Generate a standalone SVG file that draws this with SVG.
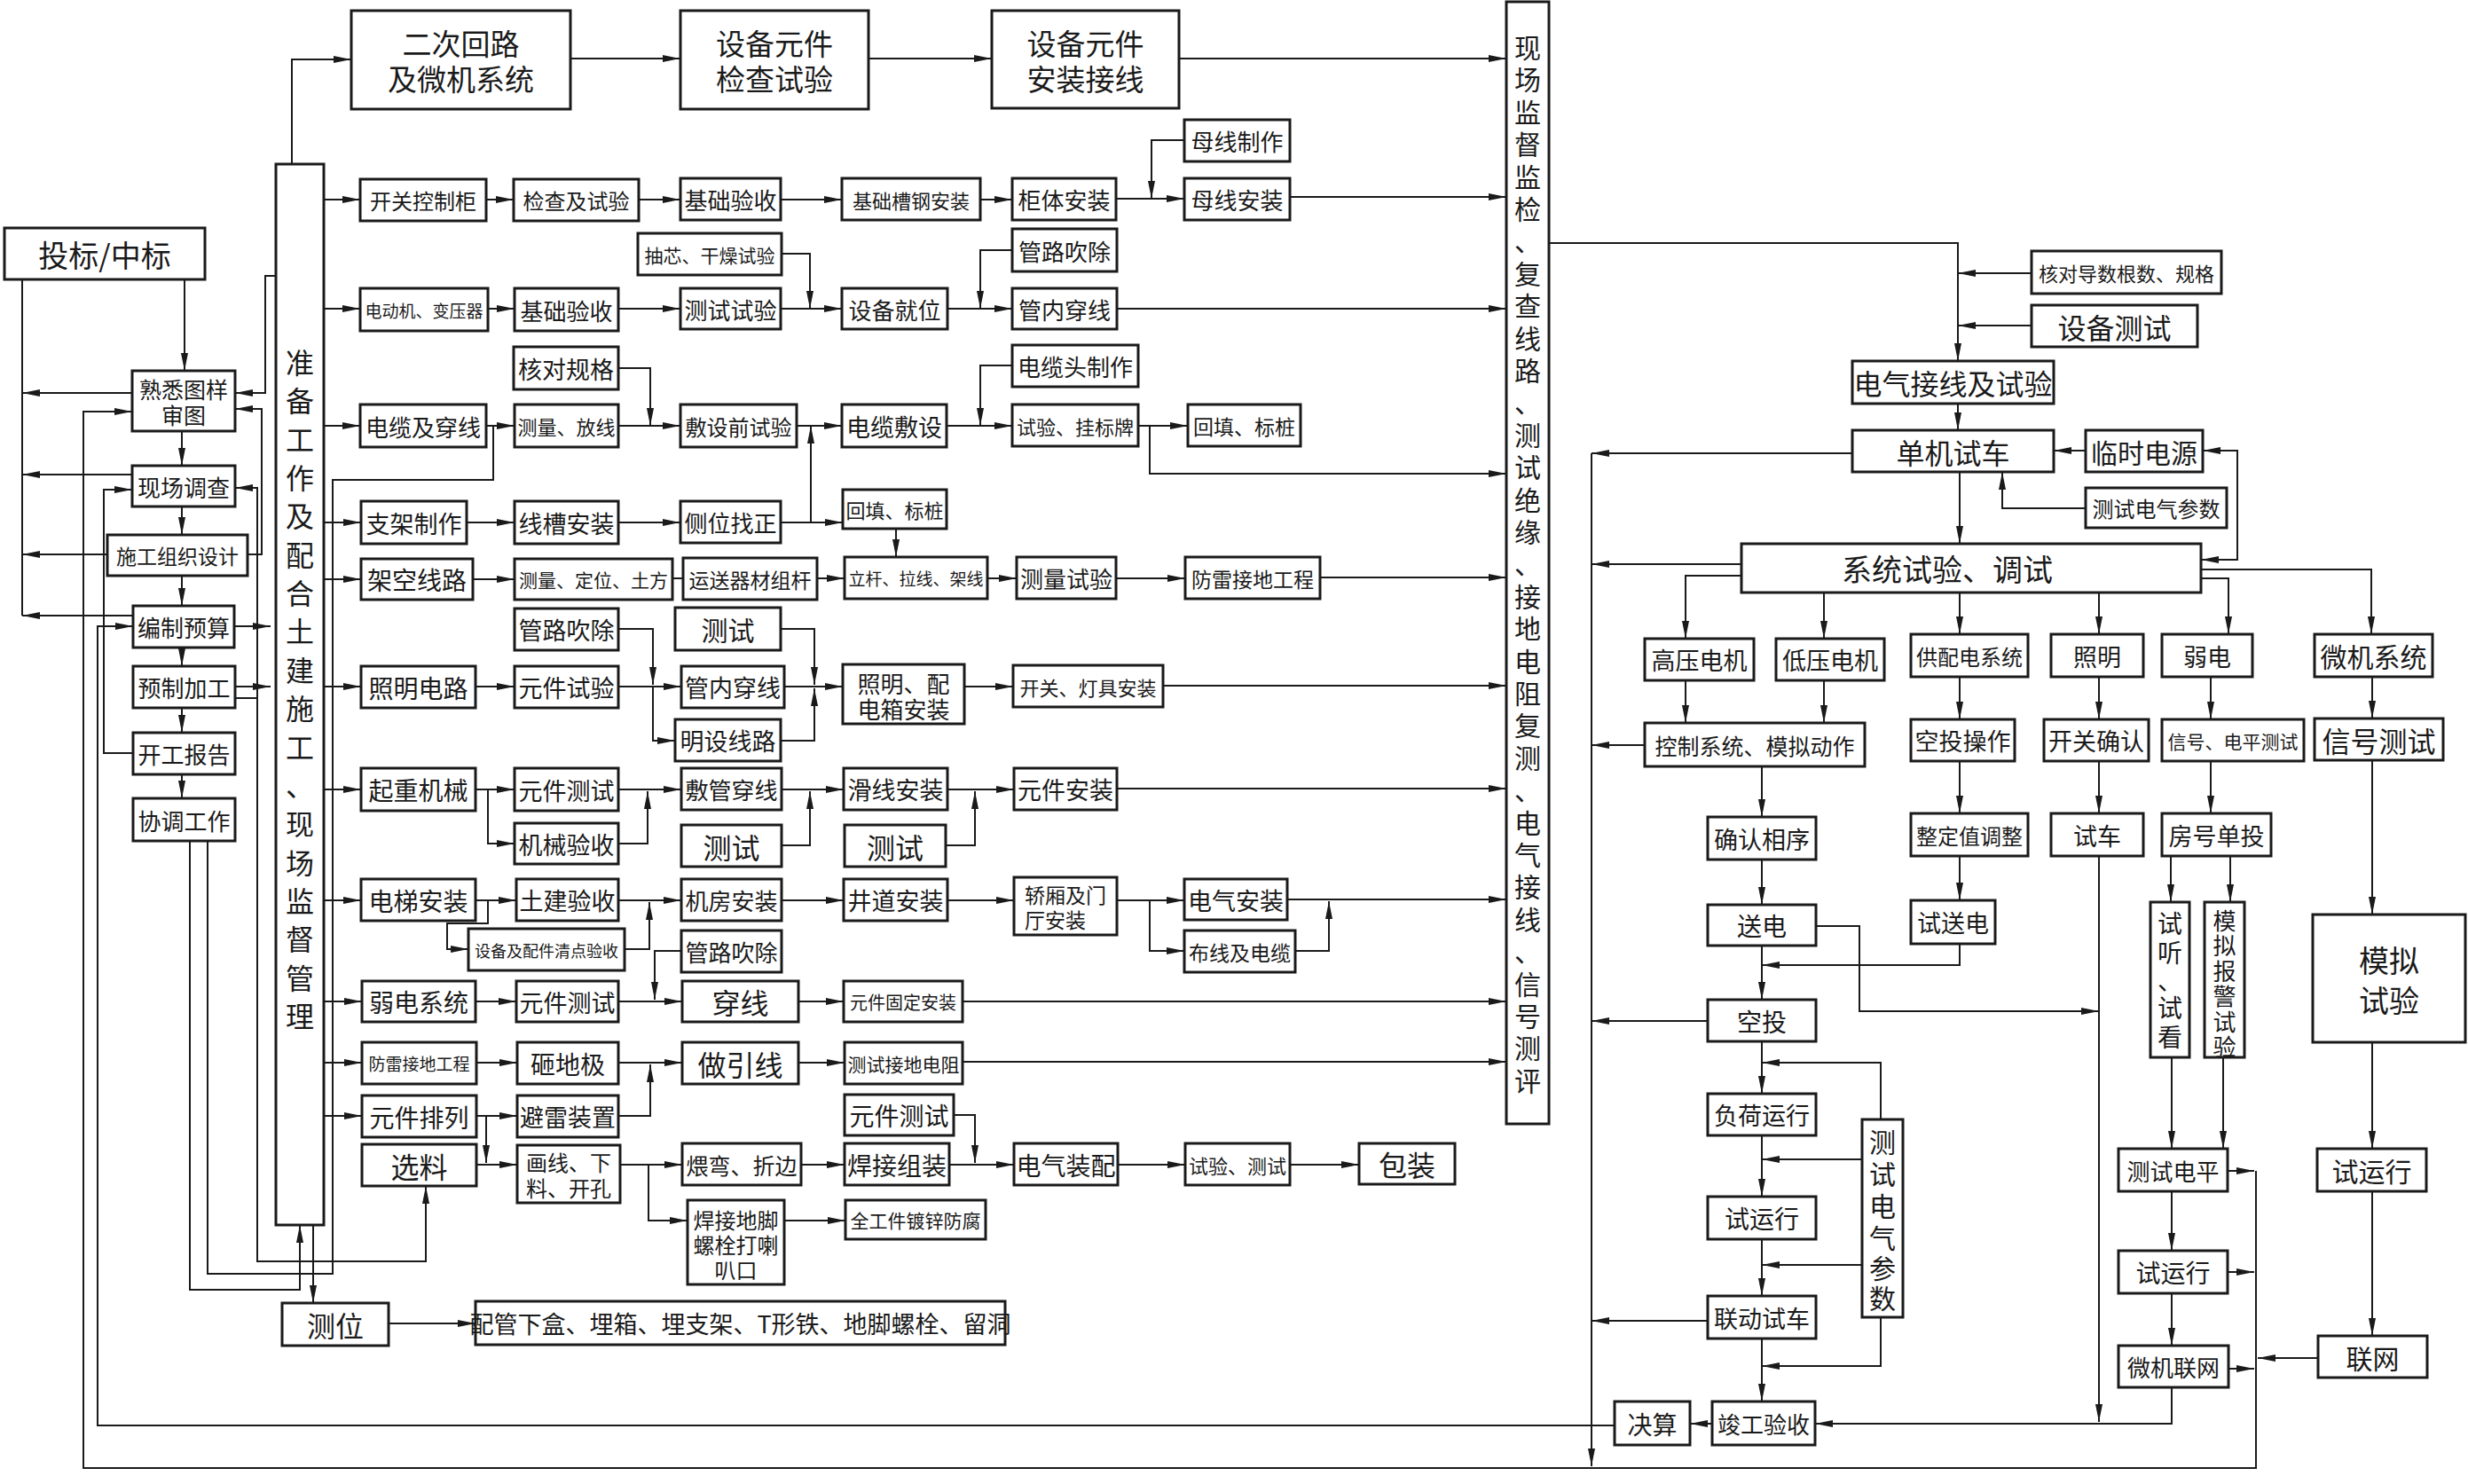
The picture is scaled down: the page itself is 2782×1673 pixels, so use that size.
<svg xmlns="http://www.w3.org/2000/svg" width="2782" height="1673" viewBox="0 0 2782 1673">
<defs>
<marker id="ah" markerWidth="20" markerHeight="10" refX="20" refY="5" orient="auto" markerUnits="userSpaceOnUse"><path d="M0,1 L20,5 L0,9 z" fill="#1a1a1a"/></marker>
<style>
.b{fill:#fff;stroke:#1a1a1a;stroke-width:3}
.t{font-family:"Noto Sans CJK SC","Noto Sans CJK JP",sans-serif;fill:#1a1a1a;text-anchor:middle;dominant-baseline:central}
.c path{fill:none;stroke:#1a1a1a;stroke-width:2}
.c path.a{marker-end:url(#ah)}
</style>
</defs>
<rect width="2782" height="1673" fill="#fff"/>
<g class="c" id="connectors">
<path class="a" d="M329,185 V67 H396"/>
<path class="a" d="M643,66 H767"/>
<path class="a" d="M979,66 H1118"/>
<path class="a" d="M1329,66 H1698"/>
<path class="a" d="M365,225 H406"/>
<path class="a" d="M548,225 H579"/>
<path class="a" d="M720,225 H767"/>
<path class="a" d="M880,225 H949"/>
<path class="a" d="M1105,225 H1141"/>
<path class="a" d="M1258,224 H1335"/>
<path class="a" d="M1335,158 H1298 V224"/>
<path class="a" d="M1454,222 H1698"/>
<path class="a" d="M365,348 H406"/>
<path class="a" d="M550,348 H580"/>
<path class="a" d="M697,348 H767"/>
<path class="a" d="M881,286 H913 V348"/>
<path class="a" d="M880,348 H949"/>
<path class="a" d="M1141,282 H1105 V348"/>
<path class="a" d="M1068,348 H1141"/>
<path class="a" d="M1259,348 H1698"/>
<path class="a" d="M365,480 H406"/>
<path class="a" d="M548,480 H580"/>
<path class="a" d="M697,415 H733 V480"/>
<path class="a" d="M697,480 H767"/>
<path class="a" d="M898,480 H949"/>
<path class="a" d="M914,589 V480"/>
<path class="a" d="M1141,412 H1105 V480"/>
<path class="a" d="M1067,480 H1141"/>
<path class="a" d="M1283,480 H1339"/>
<path class="a" d="M1296,480 V534 H1698"/>
<path d="M556,480 V541 H375 V1436 H234 V948"/>
<path class="a" d="M365,589 H407"/>
<path class="a" d="M526,589 H580"/>
<path class="a" d="M697,589 H767"/>
<path class="a" d="M880,589 H950"/>
<path class="a" d="M1010,596 V628"/>
<path class="a" d="M365,653 H407"/>
<path class="a" d="M533,653 H580"/>
<path d="M758,652 H770"/>
<path class="a" d="M921,652 H952"/>
<path class="a" d="M1113,652 H1146"/>
<path class="a" d="M1258,652 H1336"/>
<path class="a" d="M1488,651 H1698"/>
<path class="a" d="M365,774 H407"/>
<path class="a" d="M536,774 H580"/>
<path class="a" d="M697,774 H768"/>
<path class="a" d="M697,709 H736 V772"/>
<path class="a" d="M736,774 V835 H761"/>
<path class="a" d="M880,709 H918 V772"/>
<path class="a" d="M880,835 H918 V776"/>
<path class="a" d="M884,774 H950"/>
<path class="a" d="M1087,774 H1142"/>
<path class="a" d="M1311,773 H1698"/>
<path class="a" d="M365,890 H407"/>
<path class="a" d="M536,890 H580"/>
<path class="a" d="M550,890 V951 H580"/>
<path class="a" d="M697,890 H768"/>
<path class="a" d="M697,951 H730 V892"/>
<path class="a" d="M881,890 H951"/>
<path class="a" d="M881,953 H913 V892"/>
<path class="a" d="M1068,890 H1143"/>
<path class="a" d="M1066,953 H1099 V892"/>
<path class="a" d="M1259,889 H1698"/>
<path class="a" d="M365,1015 H407"/>
<path class="a" d="M536,1015 H582"/>
<path class="a" d="M550,1015 V1041 H504 V1070 H528"/>
<path class="a" d="M697,1015 H768"/>
<path class="a" d="M704,1070 H732 V1017"/>
<path class="a" d="M881,1015 H951"/>
<path class="a" d="M1068,1015 H1143"/>
<path class="a" d="M1259,1015 H1335"/>
<path class="a" d="M1296,1015 V1072 H1335"/>
<path class="a" d="M1451,1014 H1698"/>
<path class="a" d="M1460,1072 H1498 V1016"/>
<path class="a" d="M768,1072 H738 V1127"/>
<path class="a" d="M365,1129 H408"/>
<path class="a" d="M536,1129 H582"/>
<path class="a" d="M697,1129 H769"/>
<path class="a" d="M900,1129 H951"/>
<path class="a" d="M1085,1129 H1698"/>
<path class="a" d="M365,1198 H408"/>
<path class="a" d="M537,1198 H583"/>
<path class="a" d="M697,1198 H769"/>
<path class="a" d="M697,1258 H733 V1200"/>
<path class="a" d="M900,1198 H952"/>
<path class="a" d="M1085,1197 H1698"/>
<path class="a" d="M365,1258 H408"/>
<path class="a" d="M537,1258 H583"/>
<path class="a" d="M548,1258 V1311"/>
<path class="a" d="M537,1313 H583"/>
<path class="a" d="M699,1313 H769"/>
<path class="a" d="M731,1313 V1376 H775"/>
<path class="a" d="M903,1313 H952"/>
<path class="a" d="M1070,1313 H1143"/>
<path class="a" d="M1075,1257 H1099 V1311"/>
<path class="a" d="M1260,1313 H1336"/>
<path class="a" d="M1454,1313 H1532"/>
<path class="a" d="M884,1376 H953"/>
<path class="a" d="M353,1381 V1469"/>
<path class="a" d="M438,1492 H536"/>
<path class="a" d="M214,948 V1454 H338 V1381"/>
<path d="M265,787 H290"/>
<path class="a" d="M290,787 V1422 H480 V1337"/>
<path class="a" d="M290,787 V550 H265"/>
<path d="M25,315 V694"/>
<path class="a" d="M208,315 V418"/>
<path class="a" d="M149,443 H25"/>
<path class="a" d="M149,535 H25"/>
<path class="a" d="M121,625 H25"/>
<path class="a" d="M150,694 H25"/>
<path class="a" d="M205,486 V525"/>
<path class="a" d="M205,571 V603"/>
<path class="a" d="M205,649 V683"/>
<path class="a" d="M205,730 V751"/>
<path class="a" d="M205,798 V826"/>
<path class="a" d="M205,873 V900"/>
<path class="a" d="M2543,1320 V1655 H94 V464 H149"/>
<path class="a" d="M1820,1607 H110 V706 H150"/>
<path class="a" d="M150,849 H117 V552 H149"/>
<path class="a" d="M311,311 H299 V443 H265"/>
<path class="a" d="M279,625 H295 V461 H265"/>
<path class="a" d="M264,706 H305"/>
<path class="a" d="M265,774 H305"/>
<path class="a" d="M1746,274 H2207 V407"/>
<path class="a" d="M2290,308 H2207"/>
<path class="a" d="M2290,367 H2207"/>
<path class="a" d="M2207,455 V485"/>
<path class="a" d="M2351,508 H2315"/>
<path class="a" d="M2522,570 V508 H2483"/>
<path class="a" d="M2522,570 V631 H2481"/>
<path class="a" d="M2351,573 H2257 V532"/>
<path class="a" d="M2209,532 V613"/>
<path class="a" d="M2088,511 H1794"/>
<path class="a" d="M1794,511 V1653"/>
<path class="a" d="M1963,636 H1794"/>
<path class="a" d="M1963,649 H1900 V720"/>
<path class="a" d="M2056,668 V720"/>
<path class="a" d="M2209,668 V715"/>
<path class="a" d="M2366,668 V715"/>
<path class="a" d="M2481,652 H2512 V715"/>
<path class="a" d="M2481,642 H2673 V715"/>
<path class="a" d="M1900,767 V815"/>
<path class="a" d="M2056,767 V815"/>
<path class="a" d="M1854,840 H1794"/>
<path class="a" d="M1986,864 V921"/>
<path class="a" d="M1986,969 V1020"/>
<path class="a" d="M1986,1066 V1127"/>
<path class="a" d="M2047,1044 H2096 V1140 H2366"/>
<path class="a" d="M2209,1064 V1088 H1986"/>
<path class="a" d="M1925,1151 H1794"/>
<path class="a" d="M1986,1174 V1233"/>
<path class="a" d="M2120,1262 V1198 H1986"/>
<path class="a" d="M1986,1280 V1349"/>
<path class="a" d="M2099,1307 H1986"/>
<path class="a" d="M1986,1397 V1461"/>
<path class="a" d="M2099,1426 H1986"/>
<path class="a" d="M1986,1509 V1580"/>
<path class="a" d="M2120,1485 V1540 H1986"/>
<path class="a" d="M1925,1489 H1794"/>
<path class="a" d="M1930,1605 H1905"/>
<path class="a" d="M2209,763 V811"/>
<path class="a" d="M2209,858 V917"/>
<path class="a" d="M2209,965 V1015"/>
<path class="a" d="M2366,763 V811"/>
<path class="a" d="M2366,858 V917"/>
<path class="a" d="M2366,965 V1603"/>
<path class="a" d="M2492,763 V811"/>
<path class="a" d="M2492,858 V917"/>
<path class="a" d="M2447,965 V1017"/>
<path class="a" d="M2514,965 V1017"/>
<path class="a" d="M2448,1192 V1295"/>
<path class="a" d="M2506,1192 V1295"/>
<path class="a" d="M2448,1343 V1410"/>
<path class="a" d="M2448,1458 V1517"/>
<path class="a" d="M2448,1564 V1605 H2046"/>
<path class="a" d="M2511,1320 H2541"/>
<path class="a" d="M2511,1434 H2541"/>
<path class="a" d="M2512,1543 H2541"/>
<path class="a" d="M2613,1531 H2545"/>
<path class="a" d="M2674,763 V810"/>
<path class="a" d="M2674,857 V1031"/>
<path class="a" d="M2674,1175 V1295"/>
<path class="a" d="M2674,1343 V1506"/>
</g>
<g id="n01"><rect class="b" x="396" y="12" width="247" height="111"/><text class="t" font-size="33" x="470 503 536 569 453.5 486.5 519.5 552.5 585.5" y="48 48 48 48 88 88 88 88 88">二次回路及微机系统</text></g>
<g id="n02"><rect class="b" x="767" y="12" width="212" height="111"/><text class="t" font-size="33" x="823.5 856.5 889.5 922.5 823.5 856.5 889.5 922.5" y="48 48 48 48 88 88 88 88">设备元件检查试验</text></g>
<g id="n03"><rect class="b" x="1118" y="12" width="211" height="110"/><text class="t" font-size="33" x="1174 1207 1240 1273 1174 1207 1240 1273" y="48 48 48 48 88 88 88 88">设备元件安装接线</text></g>
<g id="n04"><rect class="b" x="311" y="185" width="54" height="1196"/><text class="t" font-size="32" x="338 338 338 338 338 338 338 338 338 338 338 338 338 338 338 338 338 338" y="407 450 494 537 580 624 667 710 754 797 841 884 927 971 1014 1057 1101 1144">准备工作及配合土建施工、现场监督管理</text></g>
<g id="n05"><rect class="b" x="1698" y="2" width="48" height="1265"/><text class="t" font-size="30" x="1722 1722 1722 1722 1722 1722 1722 1722 1722 1722 1722 1722 1722 1722 1722 1722 1722 1722 1722 1722 1722 1722 1722 1722 1722 1722 1722 1722 1722 1722 1722 1722 1722" y="52 88 125 161 198 234 270 307 343 380 416 452 489 525 562 598 634 671 707 744 780 816 853 889 926 962 998 1035 1071 1108 1144 1180 1217">现场监督监检、复查线路、测试绝缘、接地电阻复测、电气接线、信号测评</text></g>
<g id="n06"><rect class="b" x="5" y="257" width="226" height="58"/><text class="t" x="118" y="286" font-size="34">投标/中标</text></g>
<g id="n07"><rect class="b" x="149" y="418" width="116" height="68"/><text class="t" font-size="25" x="169.5 194.5 219.5 244.5 194.5 219.5" y="438 438 438 438 467 467">熟悉图样审图</text></g>
<g id="n08"><rect class="b" x="149" y="525" width="116" height="46"/><text class="t" x="207" y="548" font-size="26">现场调查</text></g>
<g id="n09"><rect class="b" x="121" y="603" width="158" height="46"/><text class="t" x="200" y="626" font-size="23">施工组织设计</text></g>
<g id="n10"><rect class="b" x="150" y="683" width="114" height="47"/><text class="t" x="207" y="706.5" font-size="26">编制预算</text></g>
<g id="n11"><rect class="b" x="150" y="751" width="115" height="47"/><text class="t" x="207.5" y="774.5" font-size="26">预制加工</text></g>
<g id="n12"><rect class="b" x="150" y="826" width="115" height="47"/><text class="t" x="207.5" y="849.5" font-size="26">开工报告</text></g>
<g id="n13"><rect class="b" x="150" y="900" width="115" height="48"/><text class="t" x="207.5" y="924" font-size="26">协调工作</text></g>
<g id="n14"><rect class="b" x="406" y="202" width="142" height="47"/><text class="t" x="477" y="225.5" font-size="24">开关控制柜</text></g>
<g id="n15"><rect class="b" x="579" y="202" width="141" height="47"/><text class="t" x="649.5" y="225.5" font-size="24">检查及试验</text></g>
<g id="n16"><rect class="b" x="767" y="201" width="113" height="47"/><text class="t" x="823.5" y="224.5" font-size="26">基础验收</text></g>
<g id="n17"><rect class="b" x="949" y="201" width="156" height="47"/><text class="t" x="1027" y="224.5" font-size="22">基础槽钢安装</text></g>
<g id="n18"><rect class="b" x="1141" y="201" width="117" height="47"/><text class="t" x="1199.5" y="224.5" font-size="26">柜体安装</text></g>
<g id="n19"><rect class="b" x="1335" y="135" width="119" height="47"/><text class="t" x="1394.5" y="158.5" font-size="26">母线制作</text></g>
<g id="n20"><rect class="b" x="1335" y="201" width="119" height="47"/><text class="t" x="1394.5" y="224.5" font-size="26">母线安装</text></g>
<g id="n21"><rect class="b" x="406" y="325" width="144" height="48"/><text class="t" x="478" y="349" font-size="19">电动机、变压器</text></g>
<g id="n22"><rect class="b" x="580" y="325" width="117" height="48"/><text class="t" x="638.5" y="349" font-size="26">基础验收</text></g>
<g id="n23"><rect class="b" x="719" y="263" width="162" height="47"/><text class="t" x="800" y="286.5" font-size="21">抽芯、干燥试验</text></g>
<g id="n24"><rect class="b" x="767" y="325" width="113" height="46"/><text class="t" x="823.5" y="348" font-size="26">测试试验</text></g>
<g id="n25"><rect class="b" x="949" y="325" width="119" height="46"/><text class="t" x="1008.5" y="348" font-size="26">设备就位</text></g>
<g id="n26"><rect class="b" x="1141" y="258" width="118" height="48"/><text class="t" x="1200" y="282" font-size="26">管路吹除</text></g>
<g id="n27"><rect class="b" x="1141" y="325" width="118" height="46"/><text class="t" x="1200" y="348" font-size="26">管内穿线</text></g>
<g id="n28"><rect class="b" x="579" y="391" width="118" height="48"/><text class="t" x="638" y="415" font-size="27">核对规格</text></g>
<g id="n29"><rect class="b" x="406" y="456" width="142" height="48"/><text class="t" x="477" y="480" font-size="26">电缆及穿线</text></g>
<g id="n30"><rect class="b" x="580" y="456" width="117" height="48"/><text class="t" x="638.5" y="480" font-size="22">测量、放线</text></g>
<g id="n31"><rect class="b" x="767" y="456" width="131" height="48"/><text class="t" x="832.5" y="480" font-size="24">敷设前试验</text></g>
<g id="n32"><rect class="b" x="949" y="456" width="118" height="48"/><text class="t" x="1008" y="480" font-size="27">电缆敷设</text></g>
<g id="n33"><rect class="b" x="1141" y="389" width="142" height="47"/><text class="t" x="1212" y="412.5" font-size="26">电缆头制作</text></g>
<g id="n34"><rect class="b" x="1141" y="456" width="142" height="47"/><text class="t" x="1212" y="479.5" font-size="22">试验、挂标牌</text></g>
<g id="n35"><rect class="b" x="1339" y="456" width="127" height="47"/><text class="t" x="1402.5" y="479.5" font-size="23">回填、标桩</text></g>
<g id="n36"><rect class="b" x="407" y="565" width="119" height="48"/><text class="t" x="466.5" y="589" font-size="27">支架制作</text></g>
<g id="n37"><rect class="b" x="580" y="565" width="117" height="48"/><text class="t" x="638.5" y="589" font-size="27">线槽安装</text></g>
<g id="n38"><rect class="b" x="767" y="565" width="113" height="47"/><text class="t" x="823.5" y="588.5" font-size="26">侧位找正</text></g>
<g id="n39"><rect class="b" x="950" y="552" width="117" height="44"/><text class="t" x="1008.5" y="574" font-size="22">回填、标桩</text></g>
<g id="n40"><rect class="b" x="407" y="630" width="126" height="46"/><text class="t" x="470" y="653" font-size="28">架空线路</text></g>
<g id="n41"><rect class="b" x="580" y="630" width="178" height="46"/><text class="t" x="669" y="653" font-size="21">测量、定位、土方</text></g>
<g id="n42"><rect class="b" x="770" y="629" width="151" height="47"/><text class="t" x="845.5" y="652.5" font-size="23">运送器材组杆</text></g>
<g id="n43"><rect class="b" x="952" y="628" width="161" height="47"/><text class="t" x="1032.5" y="651.5" font-size="19">立杆、拉线、架线</text></g>
<g id="n44"><rect class="b" x="1146" y="628" width="112" height="47"/><text class="t" x="1202" y="651.5" font-size="26">测量试验</text></g>
<g id="n45"><rect class="b" x="1336" y="628" width="152" height="47"/><text class="t" x="1412" y="651.5" font-size="23">防雷接地工程</text></g>
<g id="n46"><rect class="b" x="580" y="686" width="117" height="47"/><text class="t" x="638.5" y="709.5" font-size="27">管路吹除</text></g>
<g id="n47"><rect class="b" x="407" y="751" width="129" height="47"/><text class="t" x="471.5" y="774.5" font-size="28">照明电路</text></g>
<g id="n48"><rect class="b" x="580" y="751" width="117" height="47"/><text class="t" x="638.5" y="774.5" font-size="27">元件试验</text></g>
<g id="n49"><rect class="b" x="761" y="685" width="119" height="48"/><text class="t" x="820.5" y="709" font-size="30">测试</text></g>
<g id="n50"><rect class="b" x="768" y="751" width="116" height="47"/><text class="t" x="826" y="774.5" font-size="27">管内穿线</text></g>
<g id="n51"><rect class="b" x="761" y="811" width="119" height="47"/><text class="t" x="820.5" y="834.5" font-size="27">明设线路</text></g>
<g id="n52"><rect class="b" x="950" y="749" width="137" height="67"/><text class="t" font-size="26" x="979.5 1005.5 1031.5 1057.5 979.5 1005.5 1031.5 1057.5" y="769 769 769 769 798 798 798 798">照明、配电箱安装</text></g>
<g id="n53"><rect class="b" x="1142" y="750" width="169" height="47"/><text class="t" x="1226.5" y="773.5" font-size="22">开关、灯具安装</text></g>
<g id="n54"><rect class="b" x="407" y="866" width="129" height="48"/><text class="t" x="471.5" y="890" font-size="28">起重机械</text></g>
<g id="n55"><rect class="b" x="580" y="866" width="117" height="48"/><text class="t" x="638.5" y="890" font-size="27">元件测试</text></g>
<g id="n56"><rect class="b" x="580" y="928" width="117" height="46"/><text class="t" x="638.5" y="951" font-size="27">机械验收</text></g>
<g id="n57"><rect class="b" x="768" y="866" width="113" height="47"/><text class="t" x="824.5" y="889.5" font-size="26">敷管穿线</text></g>
<g id="n58"><rect class="b" x="768" y="930" width="113" height="47"/><text class="t" x="824.5" y="953.5" font-size="32">测试</text></g>
<g id="n59"><rect class="b" x="951" y="866" width="117" height="47"/><text class="t" x="1009.5" y="889.5" font-size="27">滑线安装</text></g>
<g id="n60"><rect class="b" x="952" y="930" width="114" height="47"/><text class="t" x="1009" y="953.5" font-size="32">测试</text></g>
<g id="n61"><rect class="b" x="1143" y="866" width="116" height="47"/><text class="t" x="1201" y="889.5" font-size="27">元件安装</text></g>
<g id="n62"><rect class="b" x="407" y="991" width="129" height="47"/><text class="t" x="471.5" y="1014.5" font-size="28">电梯安装</text></g>
<g id="n63"><rect class="b" x="582" y="991" width="115" height="47"/><text class="t" x="639.5" y="1014.5" font-size="27">土建验收</text></g>
<g id="n64"><rect class="b" x="528" y="1047" width="176" height="47"/><text class="t" x="616" y="1070.5" font-size="18">设备及配件清点验收</text></g>
<g id="n65"><rect class="b" x="768" y="991" width="113" height="47"/><text class="t" x="824.5" y="1014.5" font-size="26">机房安装</text></g>
<g id="n66"><rect class="b" x="768" y="1049" width="113" height="47"/><text class="t" x="824.5" y="1072.5" font-size="26">管路吹除</text></g>
<g id="n67"><rect class="b" x="951" y="991" width="117" height="47"/><text class="t" x="1009.5" y="1014.5" font-size="27">井道安装</text></g>
<g id="n68"><rect class="b" x="1143" y="989" width="116" height="65"/><text class="t" font-size="23" x="1166.5 1189.5 1212.5 1235.5 1166.5 1189.5 1212.5" y="1008 1008 1008 1008 1036 1036 1036">轿厢及门厅安装</text></g>
<g id="n69"><rect class="b" x="1335" y="991" width="116" height="46"/><text class="t" x="1393" y="1014" font-size="27">电气安装</text></g>
<g id="n70"><rect class="b" x="1335" y="1049" width="125" height="47"/><text class="t" x="1397.5" y="1072.5" font-size="23">布线及电缆</text></g>
<g id="n71"><rect class="b" x="408" y="1106" width="128" height="46"/><text class="t" x="472" y="1129" font-size="28">弱电系统</text></g>
<g id="n72"><rect class="b" x="582" y="1106" width="115" height="46"/><text class="t" x="639.5" y="1129" font-size="27">元件测试</text></g>
<g id="n73"><rect class="b" x="769" y="1106" width="131" height="46"/><text class="t" x="834.5" y="1129" font-size="32">穿线</text></g>
<g id="n74"><rect class="b" x="951" y="1106" width="134" height="46"/><text class="t" x="1018" y="1129" font-size="20">元件固定安装</text></g>
<g id="n75"><rect class="b" x="408" y="1175" width="129" height="47"/><text class="t" x="472.5" y="1198.5" font-size="19">防雷接地工程</text></g>
<g id="n76"><rect class="b" x="583" y="1175" width="114" height="47"/><text class="t" x="640" y="1198.5" font-size="28">砸地极</text></g>
<g id="n77"><rect class="b" x="769" y="1175" width="131" height="47"/><text class="t" x="834.5" y="1198.5" font-size="32">做引线</text></g>
<g id="n78"><rect class="b" x="952" y="1175" width="133" height="47"/><text class="t" x="1018.5" y="1198.5" font-size="21">测试接地电阻</text></g>
<g id="n79"><rect class="b" x="408" y="1235" width="129" height="47"/><text class="t" x="472.5" y="1258.5" font-size="28">元件排列</text></g>
<g id="n80"><rect class="b" x="583" y="1235" width="114" height="47"/><text class="t" x="640" y="1258.5" font-size="27">避雷装置</text></g>
<g id="n81"><rect class="b" x="952" y="1234" width="123" height="46"/><text class="t" x="1013.5" y="1257" font-size="28">元件测试</text></g>
<g id="n82"><rect class="b" x="408" y="1290" width="129" height="47"/><text class="t" x="472.5" y="1313.5" font-size="32">选料</text></g>
<g id="n83"><rect class="b" x="583" y="1291" width="116" height="65"/><text class="t" font-size="24" x="605 629 653 677 605 629 653 677" y="1309 1309 1309 1309 1338 1338 1338 1338">画线、下料、开孔</text></g>
<g id="n84"><rect class="b" x="769" y="1289" width="134" height="47"/><text class="t" x="836" y="1312.5" font-size="25">煨弯、折边</text></g>
<g id="n85"><rect class="b" x="952" y="1289" width="118" height="47"/><text class="t" x="1011" y="1312.5" font-size="28">焊接组装</text></g>
<g id="n86"><rect class="b" x="1143" y="1289" width="117" height="47"/><text class="t" x="1201.5" y="1312.5" font-size="28">电气装配</text></g>
<g id="n87"><rect class="b" x="1336" y="1289" width="118" height="47"/><text class="t" x="1395" y="1312.5" font-size="22">试验、测试</text></g>
<g id="n88"><rect class="b" x="1532" y="1289" width="108" height="46"/><text class="t" x="1586" y="1312" font-size="32">包装</text></g>
<g id="n89"><rect class="b" x="775" y="1353" width="109" height="95"/><text class="t" font-size="24" x="793.5 817.5 841.5 865.5 793.5 817.5 841.5 865.5 817.5 841.5" y="1374 1374 1374 1374 1402 1402 1402 1402 1430 1430">焊接地脚螺栓打喇叭口</text></g>
<g id="n90"><rect class="b" x="953" y="1353" width="158" height="44"/><text class="t" x="1032" y="1375" font-size="21">全工件镀锌防腐</text></g>
<g id="n91"><rect class="b" x="318" y="1469" width="120" height="48"/><text class="t" x="378" y="1493" font-size="32">测位</text></g>
<g id="n92"><rect class="b" x="536" y="1467" width="597" height="49"/><text class="t" x="834.5" y="1491.5" font-size="27">配管下盒、埋箱、埋支架、T形铁、地脚螺栓、留洞</text></g>
<g id="n93"><rect class="b" x="2290" y="283" width="214" height="48"/><text class="t" x="2397" y="307" font-size="22">核对导数根数、规格</text></g>
<g id="n94"><rect class="b" x="2290" y="344" width="187" height="47"/><text class="t" x="2383.5" y="367.5" font-size="32">设备测试</text></g>
<g id="n95"><rect class="b" x="2088" y="407" width="227" height="48"/><text class="t" x="2201.5" y="431" font-size="32">电气接线及试验</text></g>
<g id="n96"><rect class="b" x="2088" y="485" width="227" height="47"/><text class="t" x="2201.5" y="508.5" font-size="32">单机试车</text></g>
<g id="n97"><rect class="b" x="2351" y="485" width="132" height="47"/><text class="t" x="2417" y="508.5" font-size="30">临时电源</text></g>
<g id="n98"><rect class="b" x="2351" y="550" width="159" height="45"/><text class="t" x="2430.5" y="572.5" font-size="24">测试电气参数</text></g>
<g id="n99"><rect class="b" x="1963" y="613" width="518" height="55"/><text class="t" x="2195" y="640.5" font-size="34">系统试验、调试</text></g>
<g id="n100"><rect class="b" x="1854" y="720" width="123" height="47"/><text class="t" x="1915.5" y="743.5" font-size="27">高压电机</text></g>
<g id="n101"><rect class="b" x="2002" y="720" width="122" height="47"/><text class="t" x="2063" y="743.5" font-size="27">低压电机</text></g>
<g id="n102"><rect class="b" x="2154" y="715" width="132" height="48"/><text class="t" x="2220" y="739" font-size="24">供配电系统</text></g>
<g id="n103"><rect class="b" x="2312" y="715" width="104" height="48"/><text class="t" x="2364" y="739" font-size="27">照明</text></g>
<g id="n104"><rect class="b" x="2437" y="715" width="102" height="48"/><text class="t" x="2488" y="739" font-size="27">弱电</text></g>
<g id="n105"><rect class="b" x="2609" y="715" width="133" height="48"/><text class="t" x="2675.5" y="739" font-size="30">微机系统</text></g>
<g id="n106"><rect class="b" x="1854" y="815" width="248" height="49"/><text class="t" x="1978" y="839.5" font-size="25">控制系统、模拟动作</text></g>
<g id="n107"><rect class="b" x="2154" y="811" width="117" height="47"/><text class="t" x="2212.5" y="834.5" font-size="27">空投操作</text></g>
<g id="n108"><rect class="b" x="2304" y="811" width="118" height="47"/><text class="t" x="2363" y="834.5" font-size="27">开关确认</text></g>
<g id="n109"><rect class="b" x="2437" y="811" width="160" height="47"/><text class="t" x="2517" y="834.5" font-size="21">信号、电平测试</text></g>
<g id="n110"><rect class="b" x="2609" y="810" width="145" height="47"/><text class="t" x="2681.5" y="833.5" font-size="32">信号测试</text></g>
<g id="n111"><rect class="b" x="1925" y="921" width="122" height="48"/><text class="t" x="1986" y="945" font-size="27">确认相序</text></g>
<g id="n112"><rect class="b" x="2154" y="917" width="132" height="48"/><text class="t" x="2220" y="941" font-size="24">整定值调整</text></g>
<g id="n113"><rect class="b" x="2312" y="917" width="104" height="48"/><text class="t" x="2364" y="941" font-size="27">试车</text></g>
<g id="n114"><rect class="b" x="2437" y="917" width="123" height="48"/><text class="t" x="2498.5" y="941" font-size="27">房号单投</text></g>
<g id="n115"><rect class="b" x="1925" y="1020" width="122" height="46"/><text class="t" x="1986" y="1043" font-size="28">送电</text></g>
<g id="n116"><rect class="b" x="2154" y="1015" width="95" height="49"/><text class="t" x="2201.5" y="1039.5" font-size="27">试送电</text></g>
<g id="n117"><rect class="b" x="2424" y="1017" width="44" height="175"/><text class="t" font-size="28" x="2446 2446 2446 2446 2446" y="1040 1073 1104 1135 1168">试听、试看</text></g>
<g id="n118"><rect class="b" x="2485" y="1017" width="45" height="175"/><text class="t" font-size="26" x="2507.5 2507.5 2507.5 2507.5 2507.5 2507.5" y="1036 1064 1093 1121 1150 1178">模拟报警试验</text></g>
<g id="n119"><rect class="b" x="2607" y="1031" width="172" height="144"/><text class="t" font-size="34" x="2676 2710 2676 2710" y="1081 1081 1126 1126">模拟试验</text></g>
<g id="n120"><rect class="b" x="1925" y="1127" width="122" height="47"/><text class="t" x="1986" y="1150.5" font-size="28">空投</text></g>
<g id="n121"><rect class="b" x="1925" y="1233" width="122" height="47"/><text class="t" x="1986" y="1256.5" font-size="27">负荷运行</text></g>
<g id="n122"><rect class="b" x="2099" y="1262" width="46" height="223"/><text class="t" font-size="30" x="2122 2122 2122 2122 2122 2122" y="1286 1322 1358 1394 1428 1462">测试电气参数</text></g>
<g id="n123"><rect class="b" x="1925" y="1349" width="122" height="48"/><text class="t" x="1986" y="1373" font-size="28">试运行</text></g>
<g id="n124"><rect class="b" x="1925" y="1461" width="122" height="48"/><text class="t" x="1986" y="1485" font-size="27">联动试车</text></g>
<g id="n125"><rect class="b" x="1930" y="1580" width="116" height="49"/><text class="t" x="1988" y="1604.5" font-size="26">竣工验收</text></g>
<g id="n126"><rect class="b" x="1820" y="1580" width="85" height="49"/><text class="t" x="1862.5" y="1604.5" font-size="28">决算</text></g>
<g id="n127"><rect class="b" x="2388" y="1295" width="123" height="48"/><text class="t" x="2449.5" y="1319" font-size="26">测试电平</text></g>
<g id="n128"><rect class="b" x="2388" y="1410" width="123" height="48"/><text class="t" x="2449.5" y="1434" font-size="28">试运行</text></g>
<g id="n129"><rect class="b" x="2388" y="1517" width="124" height="47"/><text class="t" x="2450" y="1540.5" font-size="26">微机联网</text></g>
<g id="n130"><rect class="b" x="2612" y="1295" width="123" height="48"/><text class="t" x="2673.5" y="1319" font-size="30">试运行</text></g>
<g id="n131"><rect class="b" x="2613" y="1506" width="123" height="47"/><text class="t" x="2674.5" y="1529.5" font-size="30">联网</text></g>
</svg>
